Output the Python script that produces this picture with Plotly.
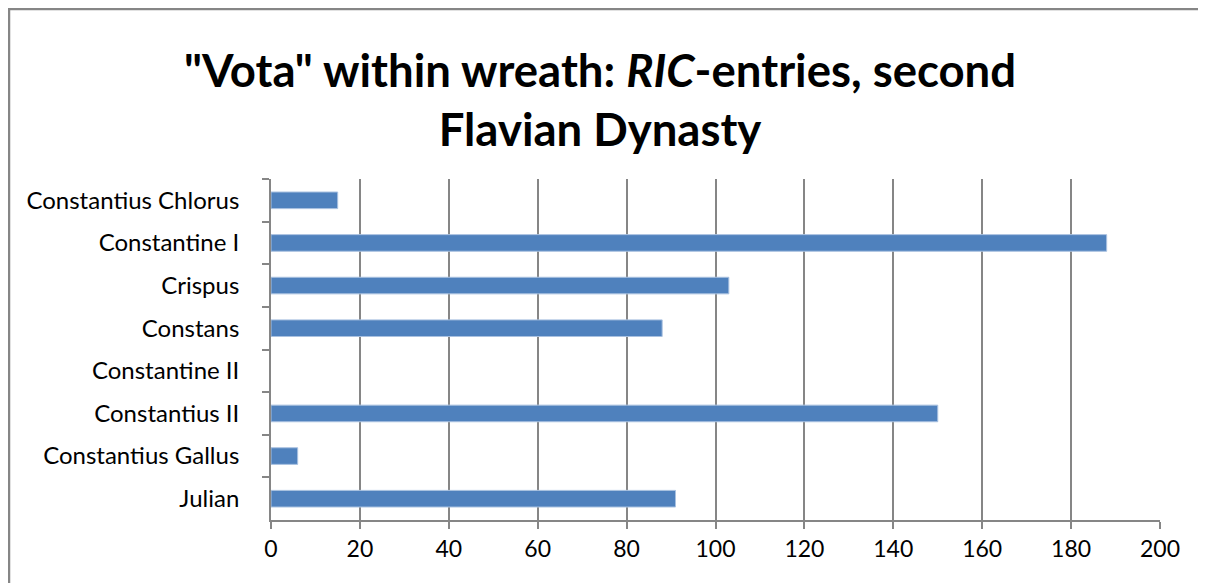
import plotly.graph_objects as go

# RIC-entries with "vota" inside a wreath, per emperor
rulers = ["Constantius Chlorus", "Constantine I", "Crispus", "Constans",
          "Constantine II", "Constantius II", "Constantius Gallus", "Julian"]
entries = [15, 188, 103, 88, 0, 150, 6, 91]
xticks = [0, 20, 40, 60, 80, 100, 120, 140, 160, 180, 200]

grey = "#868686"
fig = go.Figure(go.Bar(
    x=entries, y=rulers, orientation="h",
    marker=dict(color="#4F81BD",
                line=dict(color="#a9c1e0", width=[1 if v > 0 else 0 for v in entries])),
))

# page body has an 8px margin, so the figure sits 8px right/down
L, R, T, B = 263, 54, 171, 71
W, H = 1206 - L - R, 583 - T - B
fig.update_layout(
    width=1206, height=583,
    margin=dict(l=L, r=R, t=T, b=B),
    paper_bgcolor="white", plot_bgcolor="white",
    font=dict(family="Lato", color="black"),
    bargap=0.61, showlegend=False,
    title=dict(text='<b>"Vota" within wreath: <i>RIC</i>-entries, second<br>Flavian Dynasty</b>',
               x=592 / 1206, xanchor="center", y=1 - 79 / 583, yanchor="middle",
               font=dict(family="Lato", size=45.5, color="black")),
)
fig.update_xaxes(range=[0, 200], tickvals=xticks, showgrid=True, gridcolor=grey, gridwidth=1.8,
                 showline=True, linecolor=grey, linewidth=1.8, ticks="outside", ticklen=7,
                 tickcolor=grey, tickwidth=1.8, tickfont=dict(size=23), zeroline=False)
fig.update_yaxes(autorange="reversed", showline=True, linecolor=grey, linewidth=1.8,
                 ticks="outside", ticklen=7, tickcolor=grey, tickwidth=1.8, tickson="boundaries",
                 ticklabelstandoff=25, tickfont=dict(size=24), showgrid=False)

# chart-area border (only the top and left edges are in frame)
fig.add_shape(type="rect", xref="paper", yref="paper",
              x0=(1 - L) / W, x1=1.2, y0=-0.5, y1=1 + (T - 1) / H,
              line=dict(color=grey, width=2.5), layer="below")

fig.write_html("out.html")
